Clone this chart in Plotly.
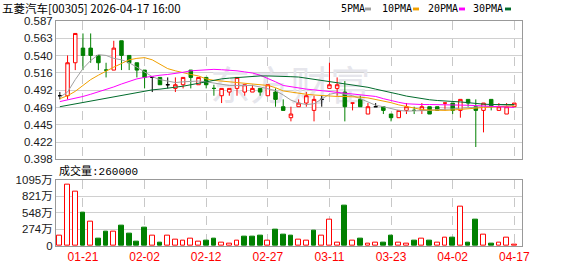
import plotly.graph_objects as go

# ---------------- data ----------------
dates = ["01-16", "01-19", "01-20", "01-21", "01-22", "01-23", "01-26", "01-27", "01-28", "01-29",
         "01-30", "02-02", "02-03", "02-04", "02-05", "02-06", "02-09", "02-10", "02-11", "02-12",
         "02-13", "02-16", "02-20", "02-23", "02-24", "02-25", "02-26", "02-27", "03-02", "03-03",
         "03-04", "03-05", "03-06", "03-09", "03-10", "03-11", "03-12", "03-13", "03-16", "03-17",
         "03-18", "03-19", "03-20", "03-23", "03-24", "03-25", "03-26", "03-27", "03-30", "03-31",
         "04-01", "04-02", "04-08", "04-09", "04-10", "04-13", "04-14", "04-15", "04-16", "04-17"]

opens = [0.485, 0.485, 0.530, 0.550, 0.550, 0.540, 0.520, 0.520, 0.560, 0.540,
         0.530, 0.520, 0.510, 0.510, 0.500, 0.495, 0.500, 0.520, 0.500, 0.510,
         0.495, 0.485, 0.490, 0.495, 0.490, 0.490, 0.495, 0.485, 0.490, 0.470,
         0.455, 0.470, 0.475, 0.465, 0.480, 0.495, 0.495, 0.490, 0.475, 0.480,
         0.460, 0.470, 0.470, 0.460, 0.455, 0.465, 0.465, 0.465, 0.470, 0.470,
         0.475, 0.475, 0.465, 0.480, 0.470, 0.465, 0.480, 0.465, 0.460, 0.470]
highs = [0.490, 0.540, 0.570, 0.570, 0.570, 0.540, 0.530, 0.560, 0.560, 0.540,
         0.530, 0.520, 0.510, 0.510, 0.510, 0.510, 0.510, 0.520, 0.510, 0.510,
         0.500, 0.495, 0.495, 0.510, 0.500, 0.500, 0.495, 0.500, 0.495, 0.480,
         0.470, 0.480, 0.490, 0.485, 0.485, 0.530, 0.510, 0.505, 0.475, 0.485,
         0.475, 0.475, 0.470, 0.460, 0.465, 0.475, 0.470, 0.475, 0.470, 0.470,
         0.475, 0.475, 0.480, 0.480, 0.480, 0.475, 0.480, 0.475, 0.475, 0.475]
lows = [0.480, 0.480, 0.520, 0.520, 0.530, 0.520, 0.510, 0.520, 0.520, 0.520,
        0.510, 0.495, 0.490, 0.500, 0.495, 0.490, 0.495, 0.495, 0.500, 0.495,
        0.485, 0.475, 0.485, 0.485, 0.485, 0.490, 0.485, 0.485, 0.470, 0.465,
        0.450, 0.470, 0.470, 0.450, 0.470, 0.495, 0.485, 0.450, 0.465, 0.470,
        0.460, 0.470, 0.460, 0.450, 0.455, 0.460, 0.460, 0.460, 0.460, 0.465,
        0.465, 0.460, 0.455, 0.470, 0.415, 0.435, 0.465, 0.465, 0.460, 0.470]
closes = [0.485, 0.530, 0.570, 0.540, 0.540, 0.530, 0.520, 0.550, 0.540, 0.530,
          0.520, 0.510, 0.510, 0.500, 0.500, 0.500, 0.510, 0.510, 0.510, 0.500,
          0.495, 0.495, 0.495, 0.510, 0.500, 0.495, 0.490, 0.500, 0.480, 0.465,
          0.460, 0.475, 0.485, 0.480, 0.480, 0.500, 0.500, 0.470, 0.475, 0.470,
          0.470, 0.470, 0.465, 0.455, 0.465, 0.470, 0.465, 0.470, 0.460, 0.465,
          0.475, 0.465, 0.480, 0.475, 0.465, 0.475, 0.470, 0.470, 0.470, 0.475]
# volume in 万股
volumes = [174, 1005, 900, 558, 400, 126, 242, 237, 337, 210,
           68, 305, 174, 52, 174, 110, 95, 126, 68, 84,
           126, 63, 47, 95, 147, 147, 163, 95, 268, 194,
           179, 110, 95, 253, 174, 427, 63, 664, 95, 126,
           47, 63, 52, 174, 63, 47, 95, 120, 84, 52,
           142, 142, 648, 52, 427, 190, 36, 63, 142, 26]

ma5 = [0.483, 0.490, 0.507, 0.522, 0.533, 0.541, 0.540, 0.536, 0.534, 0.530,
       0.524, 0.517, 0.511, 0.507, 0.505, 0.503, 0.504, 0.505, 0.505, 0.504,
       0.502, 0.500, 0.499, 0.499, 0.499, 0.499, 0.497, 0.495, 0.492, 0.486,
       0.479, 0.475, 0.473, 0.474, 0.480, 0.487, 0.489, 0.487, 0.485, 0.481,
       0.476, 0.472, 0.470, 0.467, 0.465, 0.464, 0.464, 0.464, 0.465, 0.466,
       0.466, 0.467, 0.468, 0.469, 0.470, 0.470, 0.470, 0.471, 0.472, 0.472]
ma10 = [0.481, 0.485, 0.491, 0.499, 0.507, 0.513, 0.519, 0.524, 0.529, 0.534,
        0.536, 0.537, 0.534, 0.528, 0.522, 0.519, 0.516, 0.514, 0.512, 0.508,
        0.506, 0.505, 0.504, 0.504, 0.503, 0.502, 0.5005, 0.499, 0.496, 0.4915,
        0.490, 0.488, 0.487, 0.486, 0.485, 0.4845, 0.484, 0.484, 0.484, 0.483,
        0.482, 0.480, 0.478, 0.4755, 0.4725, 0.470, 0.4675, 0.466, 0.4655, 0.465,
        0.465, 0.4655, 0.466, 0.4675, 0.468, 0.469, 0.4695, 0.470, 0.4705, 0.471]
ma20 = [0.477, 0.479, 0.482, 0.484, 0.487, 0.490, 0.493, 0.497, 0.501, 0.505,
        0.508, 0.510, 0.512, 0.513, 0.514, 0.515, 0.517, 0.519, 0.520, 0.5205,
        0.521, 0.5205, 0.520, 0.519, 0.5175, 0.516, 0.513, 0.509, 0.504, 0.499,
        0.497, 0.495, 0.494, 0.493, 0.492, 0.491, 0.490, 0.489, 0.488, 0.487,
        0.486, 0.484, 0.481, 0.478, 0.476, 0.474, 0.473, 0.473, 0.473, 0.473,
        0.4725, 0.4725, 0.472, 0.472, 0.4715, 0.471, 0.4705, 0.470, 0.469, 0.469]
ma30 = [0.470, 0.472, 0.473, 0.475, 0.477, 0.479, 0.481, 0.483, 0.485, 0.487,
        0.489, 0.491, 0.493, 0.494, 0.495, 0.496, 0.498, 0.500, 0.502, 0.505,
        0.507, 0.508, 0.509, 0.510, 0.511, 0.511, 0.512, 0.512, 0.512, 0.512,
        0.511, 0.5105, 0.509, 0.507, 0.5055, 0.504, 0.5025, 0.501, 0.4995, 0.498,
        0.4965, 0.494, 0.492, 0.489, 0.487, 0.4845, 0.4825, 0.481, 0.4795, 0.4785,
        0.478, 0.4775, 0.4765, 0.4755, 0.474, 0.4735, 0.473, 0.473, 0.473, 0.473]

price_tick_labels = ["0.398", "0.422", "0.445", "0.469", "0.492", "0.516", "0.540", "0.563", "0.587"]
vol_tick_labels = ["0", "274万", "548万", "821万", "1095万"]
vol_tick_values = [0, 273.75, 547.5, 821.25, 1095]
x_tick_dates = ["01-21", "02-02", "02-12", "02-27", "03-11", "03-23", "04-02", "04-17"]
ma_names = ["5PMA", "10PMA", "20PMA", "30PMA"]
title_text = "五菱汽车[00305] 2026-04-17 16:00"
vol_label = "成交量:260000"
watermark = "东方财富"

# ---------------- styles ----------------
RED = "#ff0000"
GREEN = "#008000"
BLACK = "#000000"
MA_COLORS = ["#a0a0a0", "#f0a000", "#ff00ff", "#006b2c"]
GRID = "#d0d0d0"
FRAME = "#999999"

W, H = 578, 276
L, R, T, B = 56, 56, 21, 21
PW, PH = W - L - R, H - T - B
P_MIN, P_MAX = 0.398, 0.587


def px(xp):
    return (xp - L) / PW


def py(yp):
    return (H - B - yp) / PH


idx = list(range(len(dates)))
tickpos = [dates.index(d) for d in x_tick_dates]

# classify candles
groups = {"up": [], "down": [], "dred": [], "dgreen": [], "dblack": []}
for i in idx:
    o, c = opens[i], closes[i]
    if c > o:
        groups["up"].append(i)
    elif c < o:
        groups["down"].append(i)
    else:
        prev = closes[i - 1] if i > 0 else c
        if c > prev:
            groups["dred"].append(i)
        elif c < prev:
            groups["dgreen"].append(i)
        else:
            groups["dblack"].append(i)

fig = go.Figure()

# watermark on base layer (below candles)
fig.add_trace(go.Scatter(x=[29.9], y=[0.5], mode="text", text=[watermark],
                         textfont=dict(size=40, color="#e6e6ec", family="Noto Sans CJK SC"),
                         xaxis="x", yaxis="y", hoverinfo="skip"))

style = {
    "up": (RED, "white"),
    "down": (GREEN, GREEN),
    "dred": (RED, RED),
    "dgreen": (GREEN, GREEN),
    "dblack": (BLACK, BLACK),
}
for key, members in groups.items():
    if not members:
        continue
    lc, fc = style[key]
    fig.add_trace(go.Candlestick(
        x=members,
        open=[opens[i] for i in members],
        high=[highs[i] for i in members],
        low=[lows[i] for i in members],
        close=[closes[i] for i in members],
        increasing=dict(line=dict(color=lc, width=1), fillcolor=fc),
        decreasing=dict(line=dict(color=lc, width=1), fillcolor=fc),
        whiskerwidth=0,
        xaxis="x", yaxis="y2", hoverinfo="skip",
    ))

for name, vals, col in zip(ma_names, [ma5, ma10, ma20, ma30], MA_COLORS):
    fig.add_trace(go.Scatter(x=idx, y=vals, mode="lines", name=name,
                             line=dict(color=col, width=1),
                             xaxis="x", yaxis="y2", hoverinfo="skip"))

# volume bars
vfill, vline = [], []
for i in idx:
    up = i == 0 or closes[i] >= closes[i - 1]
    vfill.append("white" if up else GREEN)
    vline.append(RED if up else GREEN)
fig.add_trace(go.Bar(x=idx, y=volumes, width=0.62,
                     marker=dict(color=vfill, line=dict(color=vline, width=1)),
                     xaxis="x2", yaxis="y3", hoverinfo="skip"))

price_domain = [py(165), 1.0]
vol_domain = [0.0, py(186)]
tick_font = dict(family="Liberation Sans, Noto Sans CJK SC", size=11.5, color="#1a1a1a")
price_vals = [P_MIN + k * (P_MAX - P_MIN) / 8 for k in range(9)]

fig.update_layout(
    width=W, height=H,
    margin=dict(l=L, r=R, t=T, b=B, pad=0),
    paper_bgcolor="white", plot_bgcolor="white",
    showlegend=False, boxgap=0.35, bargap=0,
    xaxis=dict(domain=[0, 1], anchor="y", range=[-0.5, 60.0],
               tickmode="array", tickvals=tickpos, showticklabels=False, ticks="",
               showgrid=True, gridcolor="#c8c8c8", griddash="dash", gridwidth=1,
               showline=True, linecolor=FRAME, linewidth=1, mirror=True,
               zeroline=False, rangeslider=dict(visible=False)),
    yaxis=dict(domain=price_domain, range=[0, 1], visible=False, fixedrange=True),
    yaxis2=dict(overlaying="y", anchor="x", range=[P_MIN, P_MAX],
                tickmode="array", tickvals=price_vals, ticktext=price_tick_labels,
                ticks="", tickfont=tick_font,
                showgrid=True, gridcolor=GRID, gridwidth=1,
                showline=True, linecolor=FRAME, linewidth=1, mirror=True,
                zeroline=False),
    xaxis2=dict(domain=[0, 1], anchor="y3", matches="x", range=[-0.5, 60.0],
                tickmode="array", tickvals=tickpos, ticktext=x_tick_dates,
                ticks="", tickfont=dict(family="Liberation Sans", size=12, color=RED),
                showgrid=True, gridcolor="#c8c8c8", griddash="dash", gridwidth=1,
                showline=True, linecolor=FRAME, linewidth=1, mirror=True,
                zeroline=False, rangeslider=dict(visible=False)),
    yaxis3=dict(domain=vol_domain, anchor="x2", range=[0, 1095],
                tickmode="array", tickvals=vol_tick_values, ticktext=vol_tick_labels,
                ticks="", tickfont=tick_font,
                showgrid=True, gridcolor=GRID, gridwidth=1,
                showline=True, linecolor=FRAME, linewidth=1, mirror=True,
                zeroline=False),
)

annotations = []
shapes = []
annotations.append(dict(text=title_text, xref="paper", yref="paper", x=px(0), y=py(7.5),
                        xanchor="left", yanchor="middle", showarrow=False,
                        font=dict(family="Noto Sans CJK SC", size=11.5, color="#000000")))
annotations.append(dict(text=vol_label, xref="paper", yref="paper", x=px(57), y=py(177),
                        xanchor="left", yanchor="middle", showarrow=False,
                        font=dict(family="Liberation Mono, Noto Sans CJK SC", size=11, color="#000000")))
legend_text_x = [339, 380, 426, 471]
legend_sw_x = [365, 413, 459, 505]
for name, col, tx, sx in zip(ma_names, MA_COLORS, legend_text_x, legend_sw_x):
    annotations.append(dict(text=name, xref="paper", yref="paper", x=px(tx), y=py(8.5),
                            xanchor="left", yanchor="middle", showarrow=False,
                            font=dict(family="DejaVu Sans Mono", size=10, color="#000000")))
    shapes.append(dict(type="rect", xref="paper", yref="paper",
                       x0=px(sx), x1=px(sx + 6), y0=py(10), y1=py(7),
                       fillcolor=col, line=dict(width=0)))
fig.update_layout(annotations=annotations, shapes=shapes)

fig.write_html("out.html")
